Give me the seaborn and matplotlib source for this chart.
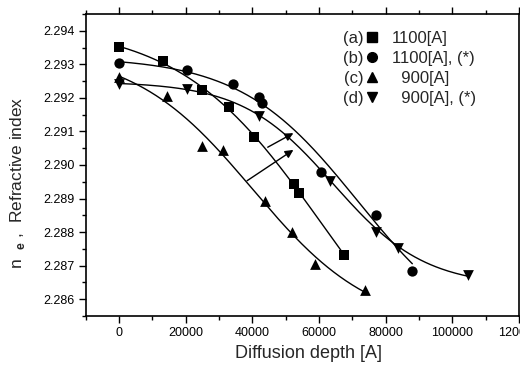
import matplotlib
matplotlib.use("Agg")
import matplotlib.pyplot as plt
from matplotlib.ticker import MultipleLocator, FormatStrFormatter
from matplotlib.lines import Line2D
import numpy as np
import seaborn as sns

# Diffusion depth [A] and refractive index n_e
depth_a = [0, 13300, 24900, 33100, 40400, 52400, 53900, 67500]
n_a = [2.29351, 2.29311, 2.29224, 2.29172, 2.29084, 2.28943, 2.28916, 2.28732]

depth_b = [0, 20500, 34300, 42000, 42800, 60500, 77000, 88000]
n_b = [2.29304, 2.29284, 2.29242, 2.29202, 2.29184, 2.28980, 2.28852, 2.28684]

depth_c = [0, 14500, 24750, 31100, 43800, 51800, 58900, 73700]
n_c = [2.29262, 2.29205, 2.29056, 2.29046, 2.28893, 2.28801, 2.28704, 2.28628]

depth_d = [0, 20500, 41900, 63200, 77000, 83700, 104600]
n_d = [2.29243, 2.29227, 2.29145, 2.28953, 2.28801, 2.28751, 2.28672]

tags = ["(a)", "(b)", "(c)", "(d)"]
labels = ["1100[A]", "1100[A], (*)", "  900[A]", "  900[A], (*)"]

# arrows (start, end) in data units
arrows = [((44600, 2.29053), (52300, 2.29095)),
          ((38400, 2.28953), (52300, 2.29045))]


def boltzmann_fit(x, y):
    # sigmoid fit y = a2 + (a1 - a2) / (1 + exp(k x + b)), grid over a1/a2
    x = np.asarray(x, float)
    y = np.asarray(y, float)
    span = y.max() - y.min()
    best = None
    for a1 in np.linspace(y.max() + span * 0.01, y.max() + span, 50):
        for a2 in np.linspace(y.min() - 2 * span, y.min() - span * 0.01, 80):
            z = np.log((a1 - y) / (y - a2))
            k, b = np.polyfit(x, z, 1)
            pred = a2 + (a1 - a2) / (1 + np.exp(k * x + b))
            sse = ((pred - y) ** 2).sum()
            if best is None or sse < best[0]:
                best = (sse, a1, a2, k, b)
    _, a1, a2, k, b = best
    xs = np.linspace(x.min(), x.max(), 200)
    return xs, a2 + (a1 - a2) / (1 + np.exp(k * xs + b))


sns.set_style("ticks")
plt.rcParams['font.family'] = ['Liberation Sans', 'DejaVu Sans']
plt.rcParams['mathtext.fontset'] = 'custom'
plt.rcParams['mathtext.rm'] = 'Liberation Sans'
plt.rcParams['mathtext.bf'] = 'Liberation Sans:bold'

fig = plt.figure(figsize=(5.2, 3.72), dpi=100)
ax = fig.add_axes([0.165, 0.151, 0.833, 0.811])

series = [
    (depth_a, n_a, 's', 45),
    (depth_b, n_b, 'o', 55),
    (depth_c, n_c, '^', 60),
    (depth_d, n_d, 'v', 60),
]

for x, y, m, s in series:
    xs, ys = boltzmann_fit(x, y)
    sns.lineplot(x=xs, y=ys, color='black', lw=1.0, ax=ax)
    sns.scatterplot(x=x, y=y, marker=m, s=s, color='black', edgecolor='black',
                    linewidth=0, ax=ax, zorder=3)

for (x0, y0), (x1, y1) in arrows:
    ax.annotate("", xy=(x1, y1), xytext=(x0, y0),
                arrowprops=dict(arrowstyle='-|>', color='black', lw=1.0,
                                mutation_scale=12, shrinkA=0, shrinkB=0))

ax.set_xlim(-10000, 120000)
ax.set_ylim(2.2855, 2.2945)
ax.xaxis.set_major_locator(MultipleLocator(20000))
ax.xaxis.set_minor_locator(MultipleLocator(10000))
ax.yaxis.set_major_locator(MultipleLocator(0.001))
ax.yaxis.set_minor_locator(MultipleLocator(0.0005))
ax.yaxis.set_major_formatter(FormatStrFormatter('%.3f'))
ax.tick_params(axis='both', which='both', direction='out', top=True, right=False,
               labelsize=9, colors='black', width=1.0)
ax.tick_params(which='major', length=5, pad=3)
ax.tick_params(which='minor', length=3)
for sp in ax.spines.values():
    sp.set_linewidth(1.2)
    sp.set_color('black')

ax.set_xlabel("Diffusion depth [A]", fontsize=13)
ax.xaxis.set_label_coords(0.515, -0.098)
ax.set_ylabel(r"n  $_{\mathbf{e}}$ ,  Refractive index", fontsize=12.5)
ax.yaxis.set_label_coords(-0.136, 0.44)

handles = [Line2D([], [], ls='none', marker=m, color='black', markersize=7 if m != 's' else 6.5)
           for _, _, m, _ in series]
leg1 = ax.legend(handles=handles, labels=tags, markerfirst=False, loc='upper left',
                 bbox_to_anchor=(0.594, 0.945), frameon=False, fontsize=12,
                 labelspacing=0.3, handletextpad=0.0, handlelength=1.0,
                 borderpad=0, borderaxespad=0)
ax.add_artist(leg1)
blank = [Line2D([], [], ls='none') for _ in labels]
ax.legend(handles=blank, labels=labels, loc='upper left',
          bbox_to_anchor=(0.707, 0.945), frameon=False, fontsize=12,
          labelspacing=0.3, handletextpad=0, handlelength=0,
          borderpad=0, borderaxespad=0)

fig.savefig("out.png", dpi=100)
